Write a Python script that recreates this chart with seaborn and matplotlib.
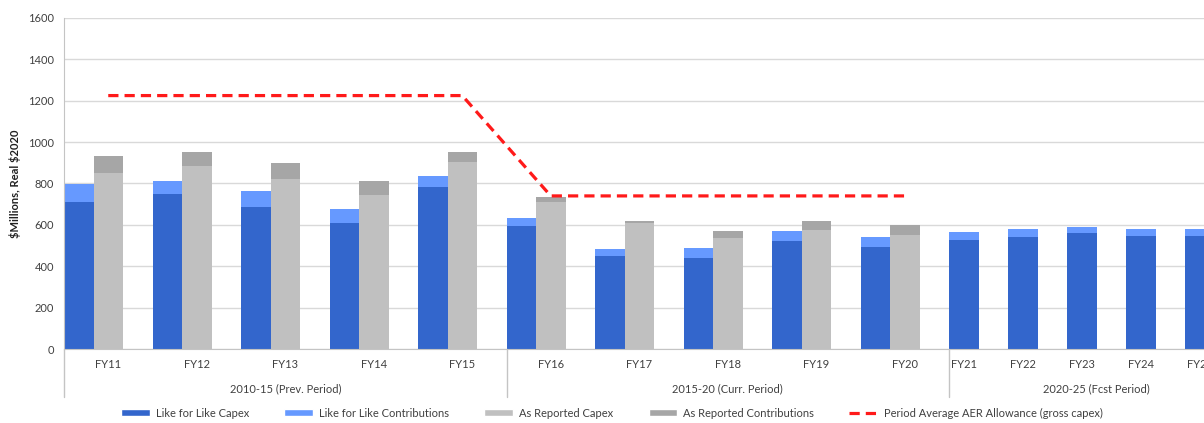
import matplotlib
matplotlib.use("Agg")
import matplotlib.pyplot as plt
import seaborn as sns
from matplotlib.patches import Patch
from matplotlib.lines import Line2D

# ---- data ($M, real $2020) ----
years = ["FY11", "FY12", "FY13", "FY14", "FY15",
         "FY16", "FY17", "FY18", "FY19", "FY20",
         "FY21", "FY22", "FY23", "FY24", "FY25"]
lfl_capex = [711, 748, 685, 607, 782, 596, 451, 441, 522, 493, 528, 540, 559, 546, 548]
lfl_contrib = [85, 64, 79, 68, 53, 36, 32, 46, 48, 48, 38, 39, 31, 33, 34]
reported_capex = [849, 886, 822, 746, 902, 709, 607, 535, 574, 551]
reported_contrib = [84, 66, 79, 68, 50, 24, 12, 34, 46, 47]
aer_allowance = [1225, 1225, 1225, 1225, 1225, 740, 740, 740, 740, 740]
periods = ["2010-15 (Prev. Period)", "2015-20 (Curr. Period)", "2020-25 (Fcst Period)"]

C_LFL = "#3366CC"
C_LFL_CONTRIB = "#6699FF"
C_REP = "#C0C0C0"
C_REP_CONTRIB = "#A6A6A6"
C_AER = "#FF1A1A"
C_GRID = "#D9D9D9"
C_AXIS = "#C4C4C4"
C_TEXT = "#404040"

sns.set_style("white")
plt.rcParams["font.family"] = ["Lato", "DejaVu Sans"]

# x layout in units of one bar width: historic years take 3 units
# (LfL bar, As Reported bar, gap), forecast years take 2 units
n_hist = len(reported_capex)
n_fcst = len(years) - n_hist
lfl_x = [3 * i + 0.5 for i in range(n_hist)] + [3 * n_hist + 2 * j + 0.5 for j in range(n_fcst)]
rep_x = [3 * i + 1.5 for i in range(n_hist)]
label_x = [3 * i + 1.5 for i in range(n_hist)] + [3 * n_hist + 2 * j + 0.5 for j in range(n_fcst)]
period_bounds = [(0, 15), (15, 30), (30, 40)]

lfl_total = [a + b for a, b in zip(lfl_capex, lfl_contrib)]
rep_total = [a + b for a, b in zip(reported_capex, reported_contrib)]

W, H = 1204, 423
fig = plt.figure(figsize=(W / 100, H / 100), dpi=100)
ax = fig.add_axes([64 / W, 74 / H, (W - 64) / W, 331 / H])

common = dict(native_scale=True, errorbar=None, saturation=1, linewidth=0, ax=ax)
# stacked bars: totals first, base component drawn over them
sns.barplot(x=lfl_x, y=lfl_total, color=C_LFL_CONTRIB, width=0.5, **common)
sns.barplot(x=lfl_x, y=lfl_capex, color=C_LFL, width=0.5, **common)
sns.barplot(x=rep_x, y=rep_total, color=C_REP_CONTRIB, width=1 / 3, **common)
sns.barplot(x=rep_x, y=reported_capex, color=C_REP, width=1 / 3, **common)

sns.lineplot(x=label_x[:n_hist], y=aer_allowance, color=C_AER, linewidth=2.3, ax=ax)
ax.lines[-1].set_dashes((3.2, 1.9))

ax.set_xlim(0, (W - 64) / 29.5)
ax.set_ylim(0, 1600)
ax.set_yticks(range(0, 1601, 200))
ax.set_yticklabels([str(v) for v in range(0, 1601, 200)], fontsize=8, color=C_TEXT)
ax.set_xticks([])
ax.set_xlabel("")
ax.grid(axis="y", color=C_GRID, linewidth=1)
ax.set_axisbelow(True)
ax.tick_params(axis="y", length=4, color=C_GRID, pad=3)
for s in ("top", "right"):
    ax.spines[s].set_visible(False)
ax.spines["left"].set_color(C_AXIS)
ax.spines["bottom"].set_color(C_AXIS)

ax.set_ylabel(r"\$Millions, Real \$2020", fontsize=8, fontweight="bold",
              color="#202020", labelpad=5)

# multi-level category axis
xt = ax.get_xaxis_transform()
for x, lab in zip(label_x, years):
    ax.text(x, -15 / 331, lab, transform=xt, ha="center", va="center",
            fontsize=8, color=C_TEXT, clip_on=False)
for (a, b), lab in zip(period_bounds, periods):
    ax.text((a + b) / 2, -40 / 331, lab, transform=xt, ha="center", va="center",
            fontsize=8, color=C_TEXT, clip_on=False)
for x in (0, 15, 30):
    ax.plot([x, x], [0, -48 / 331], transform=xt, color=C_AXIS, linewidth=1,
            clip_on=False)

handles = [
    Patch(facecolor=C_LFL, label="Like for Like Capex"),
    Patch(facecolor=C_LFL_CONTRIB, label="Like for Like Contributions"),
    Patch(facecolor=C_REP, label="As Reported Capex"),
    Patch(facecolor=C_REP_CONTRIB, label="As Reported Contributions"),
    Line2D([0], [0], color=C_AER, linewidth=2.3, dashes=(3.2, 1.9),
           label="Period Average AER Allowance (gross capex)"),
]
leg = fig.legend(handles=handles, loc="center", bbox_to_anchor=(612 / W, 10 / H),
                 ncol=5, frameon=False, fontsize=8, handlelength=2.6,
                 handleheight=0.5, columnspacing=3.2, handletextpad=0.5)
for t in leg.get_texts():
    t.set_color(C_TEXT)

fig.savefig("out.png", dpi=100)
